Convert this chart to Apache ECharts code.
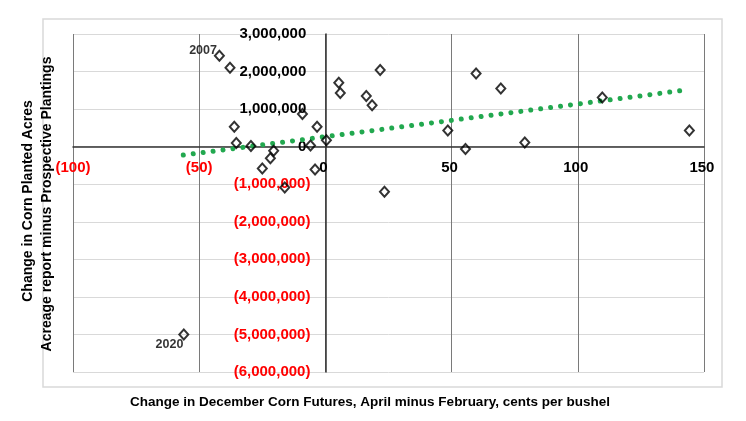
<!DOCTYPE html>
<html>
<head>
<meta charset="utf-8">
<script src="https://cdn.jsdelivr.net/npm/echarts@6/dist/echarts.min.js"></script>
<style>
  html, body { margin: 0; padding: 0; background: #fff; }
  #chart { width: 746px; height: 421px; }
</style>
</head>
<body>
<div id="chart"></div>
<script>
// change in Dec corn futures, April minus February (cents/bu)
const futuresChange = [-42.0, -37.8, -36.1, -35.3, -29.5, -20.5, -21.8, -25.0, -16.1, -9.1,
  -5.9, -3.3, -4.1, 0.4, 5.3, 5.9, 16.2, 18.5, 21.7, 23.4,
  48.5, 55.5, 59.7, 69.5, 79.0, 109.7, 144.2, -56.1];
// change in planted acres, Acreage report minus Prospective Plantings
const acresChange = [2420000, 2100000, 530000, 100000, 20000, -110000, -310000, -580000, -1090000, 870000,
  30000, 530000, -610000, 170000, 1700000, 1430000, 1350000, 1100000, 2040000, -1200000,
  430000, -60000, 1950000, 1550000, 110000, 1310000, 430000, -5000000];
const yearLabels = ['2007', '', '', '', '', '', '', '', '', '',
  '', '', '', '', '', '', '', '', '', '',
  '', '', '', '', '', '', '', '2020'];

// linear trend, read at its two ends
const trendX = [-56.3, 141.8];
const trendY = [-224000, 1500000];

const xTicks = { min: -100, max: 150, step: 50 };
const yTicks = { min: -6000000, max: 3000000, step: 1000000 };

const FONT = '"Liberation Sans", Arial, sans-serif';

const GRID = { left: 73, right: 42, top: 34, bottom: 49 };
const W = 746, H = 421;
const plotW = W - GRID.left - GRID.right;
const plotH = H - GRID.top - GRID.bottom;
// axes cross at zero: shift them inward from the grid edges
const yAxisShift = -plotW * (0 - xTicks.min) / (xTicks.max - xTicks.min);
const xAxisShift = -plotH * (0 - yTicks.min) / (yTicks.max - yTicks.min);

// where the two year labels sit next to their marker
const labelPlacement = {
  '2007': { position: 'left', distance: 0, offset: [3, -5] },
  '2020': { position: 'left', distance: 0, offset: [5, 10] }
};

// excel style: positives padded, negatives in red brackets
const fmtNum = (v) => {
  const s = Math.abs(v).toLocaleString('en-US');
  return v < 0 ? '(' + s + ')' : s + ' ';
};
const numColor = (v) => (Number(v) < 0 ? '#ff0000' : '#000000');

const points = futuresChange.map((x, i) => {
  const item = { value: [x, acresChange[i]] };
  const yr = yearLabels[i];
  if (yr) {
    item.label = Object.assign({
      show: true,
      formatter: yr,
      color: '#000000',
      fontFamily: FONT,
      fontWeight: 'bold',
      fontSize: 12.5
    }, labelPlacement[yr]);
  }
  return item;
});

const chart = echarts.init(document.getElementById('chart'), null, { renderer: 'canvas' });

const option = {
  animation: false,
  backgroundColor: '#ffffff',
  grid: Object.assign({ containLabel: false, outerBoundsMode: 'none' }, GRID),
  xAxis: {
    type: 'value',
    position: 'bottom',
    offset: xAxisShift,
    min: xTicks.min,
    max: xTicks.max,
    interval: xTicks.step,
    axisLine: { onZero: false, lineStyle: { color: '#333333', width: 1.5 } },
    axisTick: { show: false },
    splitLine: { show: true, lineStyle: { color: '#7a7a7a', width: 1 } },
    axisLabel: {
      margin: 14,
      fontFamily: FONT,
      fontWeight: 'bold',
      fontSize: 15,
      formatter: fmtNum,
      color: numColor
    }
  },
  yAxis: {
    type: 'value',
    position: 'left',
    offset: yAxisShift,
    min: yTicks.min,
    max: yTicks.max,
    interval: yTicks.step,
    axisLine: { onZero: false, lineStyle: { color: '#333333', width: 1.5 } },
    axisTick: { show: false },
    splitLine: { show: true, lineStyle: { color: '#d9d9d9', width: 1 } },
    axisLabel: {
      margin: 15,
      fontFamily: FONT,
      fontWeight: 'bold',
      fontSize: 15,
      formatter: fmtNum,
      color: numColor
    }
  },
  series: [
    {
      name: 'trend',
      type: 'line',
      data: trendX.map((x, i) => [x, trendY[i]]),
      showSymbol: false,
      symbol: 'none',
      lineStyle: { color: '#22a84f', width: 5, type: [0.01, 10], cap: 'round' },
      z: 3
    },
    {
      name: 'years',
      type: 'scatter',
      data: points,
      symbol: 'diamond',
      symbolSize: [9, 10],
      itemStyle: { color: 'rgba(255,255,255,0)', borderColor: '#000000', borderWidth: 2 },
      z: 4
    }
  ],
  graphic: [
    {
      type: 'rect',
      shape: { x: 43, y: 19, width: 679, height: 368 },
      style: { fill: 'none', stroke: '#d9d9d9', lineWidth: 1.5 },
      z: -1
    },
    {
      type: 'text',
      x: 370,
      y: 402,
      style: {
        text: 'Change in December Corn Futures, April minus February, cents per bushel',
        font: 'bold 13.5px ' + FONT,
        fill: '#000000',
        align: 'center',
        verticalAlign: 'middle'
      }
    },
    {
      type: 'text',
      x: 28.5,
      y: 201,
      rotation: Math.PI / 2,
      style: {
        text: 'Change in Corn Planted Acres',
        font: 'bold 14px ' + FONT,
        fill: '#000000',
        align: 'center',
        verticalAlign: 'middle'
      }
    },
    {
      type: 'text',
      x: 47,
      y: 204,
      rotation: Math.PI / 2,
      style: {
        text: 'Acreage report minus Prospective Plantings',
        font: 'bold 14px ' + FONT,
        fill: '#000000',
        align: 'center',
        verticalAlign: 'middle'
      }
    }
  ]
};

chart.setOption(option);
</script>
</body>
</html>
